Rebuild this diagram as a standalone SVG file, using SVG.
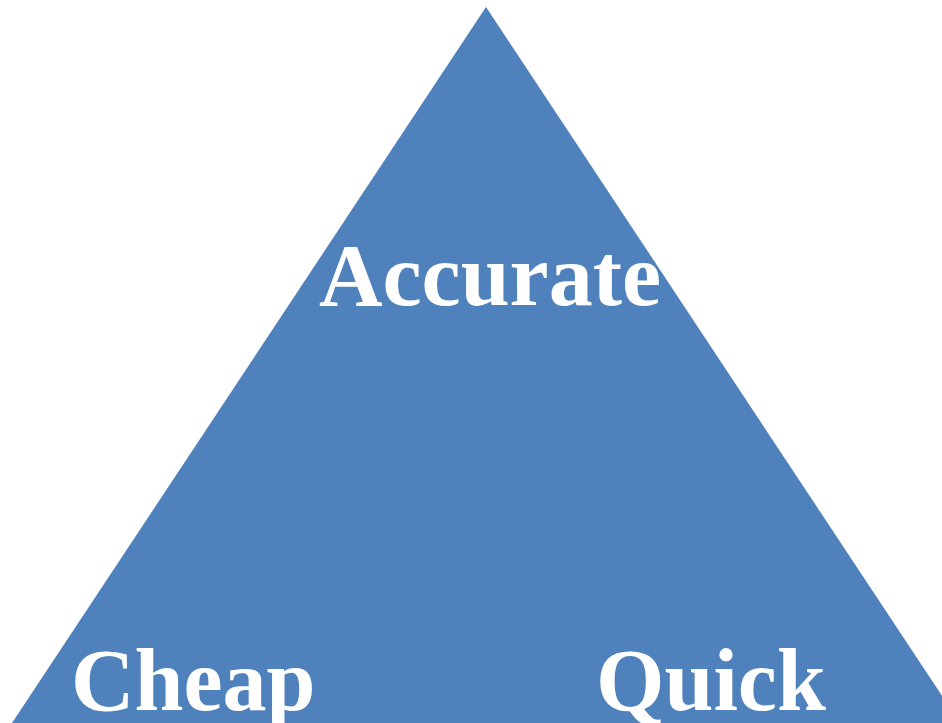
<svg xmlns="http://www.w3.org/2000/svg" width="942" height="723" viewBox="0 0 942 723">
  <style>
    .label { font-family: "Liberation Serif", "Times New Roman", serif; font-weight: bold; font-size: 88px; fill: #ffffff; }
  </style>
  <rect width="942" height="723" fill="#ffffff"/>
  <g id="triangle">
    <polygon points="486,7 12,723 960,723" fill="#4f81bd"/>
  </g>
  <g id="accurate">
    <text class="label" x="490" y="305" text-anchor="middle">Accurate</text>
  </g>
  <g id="cheap">
    <text class="label" x="71" y="710">Cheap</text>
  </g>
  <g id="quick">
    <text class="label" x="596" y="710">Quick</text>
  </g>
</svg>
